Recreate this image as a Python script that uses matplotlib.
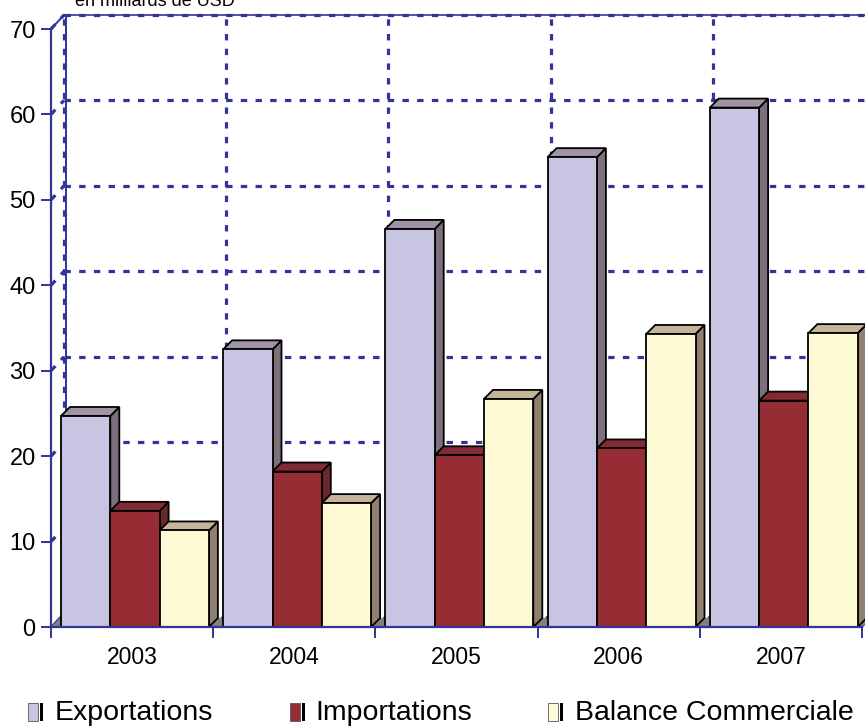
import matplotlib
matplotlib.use('Agg')
import matplotlib.pyplot as plt
from matplotlib.patches import Polygon, Rectangle

plt.rcParams['font.family'] = ['Liberation Sans', 'DejaVu Sans']

# ---------------- data ----------------
years = ['2003', '2004', '2005', '2006', '2007']
exportations = [24.7, 32.5, 46.6, 55.0, 60.8]
importations = [13.6, 18.2, 20.1, 20.9, 26.5]
balance_commerciale = [11.3, 14.5, 26.7, 34.3, 34.4]
series_names = ['Exportations', 'Importations', 'Balance Commerciale']
y_ticks = [0, 10, 20, 30, 40, 50, 60, 70]
unit_label = 'en milliards de USD'

series = [exportations, importations, balance_commerciale]

# ---------------- style ----------------
front_colors = ['#C7C5E2', '#962D34', '#FFFAD6']
top_colors = ['#A094A4', '#832B34', '#C4B49A']
side_colors = ['#7D707D', '#6A272C', '#918070']
blue = '#333399'
floor_color = '#808080'

W, H = 865, 727
fig = plt.figure(figsize=(W / 100, H / 100), dpi=100)
ax_l, ax_r, ax_t, ax_b = 51, 862, 29, 627
ax = fig.add_axes([ax_l / W, 1 - ax_b / H, (ax_r - ax_l) / W, (ax_b - ax_t) / H])
n = len(years)
ymax = y_ticks[-1]
ax.set_xlim(0, n)
ax.set_ylim(0, ymax)

px_x = n / (ax_r - ax_l)
px_y = ymax / (ax_b - ax_t)
wall_dx, wall_dy = 13 * px_x, 14 * px_y
bar_dx, bar_dy = 9 * px_x, 9 * px_y
bar_off = 10 * px_x
bar_w = 49.3 * px_x

dash = dict(color=blue, lw=2.3, dashes=(2.0, 2.6), clip_on=False, zorder=1)

# floor
ax.add_patch(Polygon([(0, 0), (bar_dx, bar_dy), (n + bar_dx, bar_dy), (n, 0)],
                     closed=True, fc=floor_color, ec='none', zorder=1.5, clip_on=False))

# back wall grid
for v in y_ticks[1:]:
    ax.plot([wall_dx, n + wall_dx + 1], [v + wall_dy] * 2, **dash)
    ax.plot([0, wall_dx], [v, v + wall_dy], **dash)
for i in range(n + 1):
    ax.plot([i + wall_dx] * 2, [wall_dy, ymax + wall_dy], **dash)
    ax.plot([i, i + wall_dx], [0, wall_dy], color=blue, lw=1.2, clip_on=False, zorder=1)
ax.plot([wall_dx, n + wall_dx + 1], [ymax + wall_dy] * 2, color=blue, lw=1.2, clip_on=False, zorder=1)
ax.plot([wall_dx + 1.5 * px_x] * 2, [wall_dy, ymax + wall_dy], color=blue, lw=1.4, clip_on=False, zorder=1)
ax.plot([0, wall_dx], [ymax, ymax + wall_dy], color=blue, lw=1.4, clip_on=False, zorder=1)

# bars
ek = dict(ec='black', lw=1.3, joinstyle='miter', clip_on=False)
for i in range(n):
    for s, vals in enumerate(series):
        x0 = i + bar_off + s * bar_w
        h = vals[i]
        z = 3 + i * 0.1 + s * 0.01
        ax.add_patch(Polygon([(x0 + bar_w, 0), (x0 + bar_w + bar_dx, bar_dy),
                              (x0 + bar_w + bar_dx, h + bar_dy), (x0 + bar_w, h)],
                             closed=True, fc=side_colors[s], zorder=z, **ek))
        ax.add_patch(Polygon([(x0, h), (x0 + bar_dx, h + bar_dy),
                              (x0 + bar_w + bar_dx, h + bar_dy), (x0 + bar_w, h)],
                             closed=True, fc=top_colors[s], zorder=z, **ek))
        ax.add_patch(Rectangle((x0, 0), bar_w, h, fc=front_colors[s], zorder=z + 0.001, **ek))

# axes
for sp in ['top', 'right']:
    ax.spines[sp].set_visible(False)
for sp in ['left', 'bottom']:
    ax.spines[sp].set_color(blue)
    ax.spines[sp].set_linewidth(1.6)
    ax.spines[sp].set_zorder(10)
ax.set_yticks(y_ticks)
ax.set_yticklabels([str(v) for v in y_ticks])
ax.tick_params(axis='y', direction='out', length=7, width=1.4, color=blue,
               labelsize=17, pad=4, labelcolor='black')
ax.set_xticks(range(n + 1))
ax.set_xticklabels([''] * (n + 1))
ax.set_xticks([i + 0.5 for i in range(n)], minor=True)
ax.set_xticklabels(years, minor=True)
ax.tick_params(axis='x', which='major', direction='out', length=8, width=1.4, color=blue)
ax.tick_params(axis='x', which='minor', length=0, labelsize=16.5, pad=14, labelcolor='black')
ax.set_facecolor('none')

# unit label (cut at top, as in the original)
fig.text(75 / W, 1 - 6 / H, unit_label, fontsize=13, va='baseline', ha='left')

# legend (manual)
leg_patch_x = [28, 290, 548]
leg_text_x = [55, 315, 575]
for s, name in enumerate(series_names):
    px = leg_patch_x[s]
    fig.add_artist(Rectangle((px / W, 1 - 721 / H), 10 / W, 18 / H, transform=fig.transFigure,
                             fc=front_colors[s], ec='#555555', lw=0.6))
    fig.add_artist(Rectangle(((px + 12) / W, 1 - 721 / H), 3 / W, 18 / H, transform=fig.transFigure,
                             fc='black', ec='none'))
    fig.text(leg_text_x[s] / W, 1 - 720 / H, name, fontsize=20.5, va='baseline', ha='left')

fig.savefig('out.png', dpi=100)
